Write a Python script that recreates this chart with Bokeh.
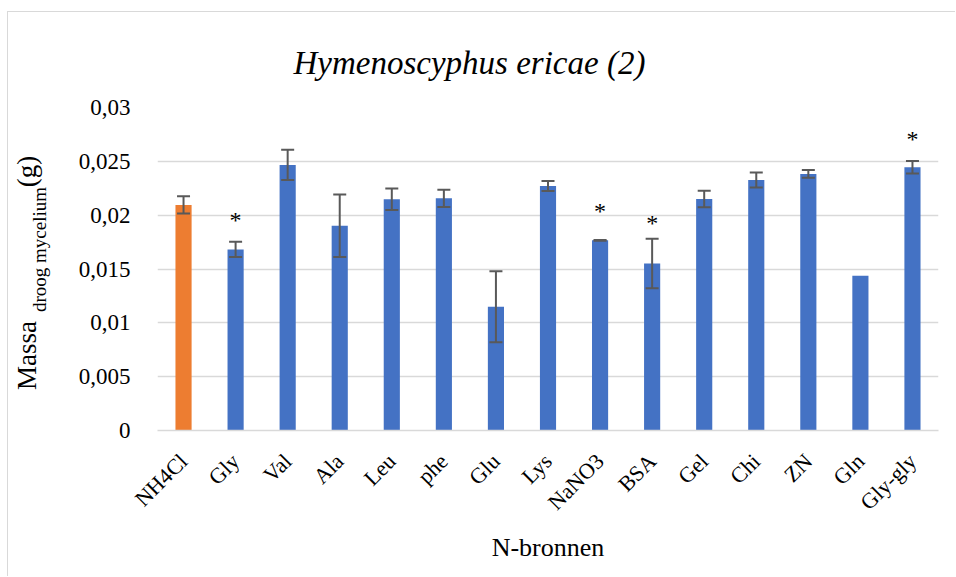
import math
from bokeh.plotting import figure
from bokeh.models import (ColumnDataSource, Whisker, TeeHead, FactorRange, Range1d,
                          FixedTicker, CustomJSTickFormatter, LinearAxis, LinearScale)
from bokeh.core.properties import value
from bokeh.embed import file_html
from bokeh.resources import INLINE

# ---- data ----
categories = ["NH4Cl", "Gly", "Val", "Ala", "Leu", "phe", "Glu", "Lys",
              "NaNO3", "BSA", "Gel", "Chi", "ZN", "Gln", "Gly-gly"]
mass = [0.02095, 0.01682, 0.02467, 0.01902, 0.02147, 0.02156, 0.01149, 0.02271,
        0.01766, 0.01552, 0.02150, 0.02327, 0.02383, 0.01437, 0.02445]
error = [0.0008, 0.0007, 0.0014, 0.0029, 0.0010, 0.0008, 0.0033, 0.00046,
         0.00003, 0.0023, 0.00076, 0.0007, 0.00036, 0.0, 0.00058]
control = "NH4Cl"
significant = ["Gly", "NaNO3", "BSA", "Gly-gly"]
star_y = [0.01955, 0.02042, 0.01927, 0.02709]
y_ticks = [0, 0.005, 0.01, 0.015, 0.02, 0.025, 0.03]

title_text = "Hymenoscyphus ericae (2)"
x_title = "N-bronnen"
y_title_main = "Massa"
y_title_sub = "droog mycelium"
y_title_unit = "(g)"

BLUE = "#4472C4"
ORANGE = "#ED7D31"
GRID = "#D9D9D9"
FONT = "Liberation Serif"

colors = [ORANGE if c == control else BLUE for c in categories]
src = ColumnDataSource(dict(cat=categories, mass=mass, color=colors))

wcat = [c for c, e in zip(categories, error) if e > 0]
wup = [m + e for m, e in zip(mass, error) if e > 0]
wlo = [m - e for m, e in zip(mass, error) if e > 0]
wsrc = ColumnDataSource(dict(cat=wcat, upper=wup, lower=wlo))

ssrc = ColumnDataSource(dict(cat=significant, y=star_y, t=["*"] * len(significant)))

FH = 323   # plot-frame height in pixels (range used to place the y-axis title parts)

p = figure(x_range=FactorRange(*categories), y_range=Range1d(0, 0.03),
           width=948, height=565, output_backend="svg", toolbar_location=None,
           min_border_left=145, min_border_right=18, min_border_top=95,
           min_border_bottom=147, margin=(11, 0, 0, 7),
           styles={"border-top": "1px solid #D9D9D9", "border-left": "1px solid #D9D9D9"})
p.outline_line_color = None
p.extra_y_ranges = {"py": Range1d(0, FH)}
p.extra_y_scales = {"py": LinearScale()}

p.title.text = title_text
p.title.text_font = FONT
p.title.text_font_style = "italic"
p.title.text_font_size = "33px"
p.title.align = "left"
p.title.text_color = "black"
p.title.offset = 136
p.title.standoff = 54

p.vbar(x="cat", top="mass", width=0.31, source=src, fill_color="color",
       line_color=None)

w = Whisker(source=wsrc, base="cat", upper="upper", lower="lower",
            line_color="#595959", line_width=2, level="overlay",
            upper_head=TeeHead(size=13, line_color="#595959", line_width=2),
            lower_head=TeeHead(size=13, line_color="#595959", line_width=2))
p.add_layout(w)

p.text(x="cat", y="y", text="t", source=ssrc, text_font=value(FONT),
       text_font_size="24px", text_align="center", text_baseline="middle",
       text_color="black")

p.xgrid.grid_line_color = None
p.ygrid.grid_line_color = GRID
p.ygrid.grid_line_width = 1.3
p.yaxis.ticker = FixedTicker(ticks=y_ticks)
p.yaxis.formatter = CustomJSTickFormatter(
    code="return parseFloat(tick.toFixed(4)).toString().replace('.', ',');")
p.yaxis.axis_line_color = None
p.yaxis.major_tick_line_color = None
p.yaxis.minor_tick_line_color = None
p.yaxis.major_label_standoff = 21
p.yaxis.major_label_text_font = FONT
p.yaxis.major_label_text_font_size = "23px"
p.yaxis.major_label_text_color = "black"

p.xaxis.axis_line_color = GRID
p.xaxis.axis_line_width = 1.5
p.xaxis.major_tick_line_color = None
p.xaxis.minor_tick_line_color = None
p.xaxis.major_label_orientation = math.pi / 4
p.xaxis.major_label_standoff = 21
p.xaxis.major_label_text_font = FONT
p.xaxis.major_label_text_font_size = "22px"
p.xaxis.major_label_text_color = "black"
p.xaxis.axis_label = x_title
p.xaxis.axis_label_text_font = FONT
p.xaxis.axis_label_text_font_style = "normal"
p.xaxis.axis_label_text_font_size = "26px"
p.xaxis.axis_label_text_color = "black"
p.xaxis.axis_label_standoff = 6


def text_axis(ticks, labels, size, standoff):
    return LinearAxis(y_range_name="py", ticker=FixedTicker(ticks=ticks),
                      major_label_overrides=dict(zip(ticks, labels)),
                      axis_line_color=None, major_tick_line_color=None,
                      minor_tick_line_color=None, major_label_standoff=standoff,
                      major_label_text_font=FONT, major_label_text_font_size=size,
                      major_label_text_color="black",
                      major_label_orientation="vertical")


# y-axis title: subscript column first (nearest the tick labels), then main text
p.add_layout(text_axis([181], [y_title_sub], "19px", 20), "left")
p.add_layout(text_axis([75, 259], [y_title_main, y_title_unit], "27px", -22), "left")

open("out.html", "w").write(file_html(p, INLINE))
